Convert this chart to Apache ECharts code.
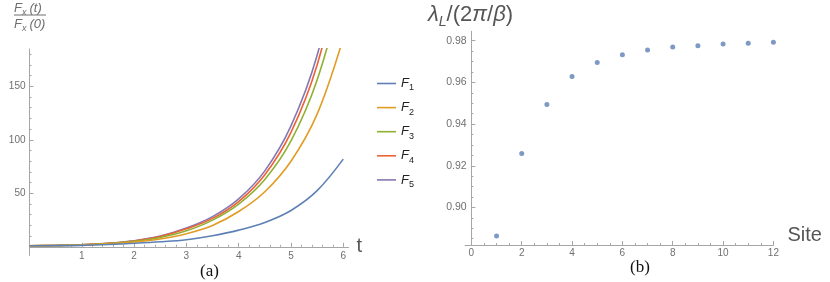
<!DOCTYPE html>
<html><head><meta charset="utf-8">
<script src="https://cdn.jsdelivr.net/npm/echarts@6/dist/echarts.min.js"></script>
<style>html,body{margin:0;padding:0;background:#fff}#c{width:830px;height:282px}</style>
</head><body><div id="c"></div>
<script>
// ---- data: panel (a) ----
const tValues = [0, 0.5, 1, 1.5, 2, 2.5, 3, 3.5, 4, 4.5, 5, 5.5, 6];
const F1 = [1, 1.1, 1.4, 2.2, 3.3, 4.7, 6.7, 10.4, 15.6, 22.8, 34, 52.5, 82];
const F2 = [1, 1.2, 1.7, 2.7, 4.5, 7.4, 12.3, 20, 33, 51.5, 80, 124, 195];
const F3 = [1, 1.3, 1.8, 3.1, 5.2, 8.8, 15, 25, 40, 63, 99, 156, 243];
const F4 = [1, 1.3, 1.9, 3.2, 5.5, 9.6, 16.8, 26.6, 42.3, 67.4, 107, 170, 270];
const F5 = [1, 1.3, 1.9, 3.3, 5.7, 10, 17.5, 28.2, 44.8, 71, 113, 179, 285];
const seriesNames = ['F1', 'F2', 'F3', 'F4', 'F5'];
const seriesColors = ['#5E81B5', '#E19C24', '#8FB032', '#EB6235', '#8778B3'];
const leftXTicks = [1, 2, 3, 4, 5, 6];
const leftYTicks = [50, 100, 150];

// ---- data: panel (b) ----
const sites = [1, 2, 3, 4, 5, 6, 7, 8, 9, 10, 11, 12];
const lambdaRatio = [0.8863, 0.9259, 0.9494, 0.9628, 0.9695, 0.9732, 0.9755, 0.9770, 0.9776, 0.9784, 0.9788, 0.9792];
const rightXTicks = [0, 2, 4, 6, 8, 10, 12];
const rightYTicks = [0.90, 0.92, 0.94, 0.96, 0.98];

// minor tick helper (axis decoration only)
function minorTicks(from, to, step, majorStep) {
  const out = [];
  const n = Math.round((to - from) / step);
  for (let i = 0; i <= n; i++) {
    const v = +(from + i * step).toFixed(6);
    const r = v / majorStep;
    if (Math.abs(r - Math.round(r)) > 1e-6) out.push(v);
  }
  return out;
}

const FONT = '"Liberation Sans", Arial, sans-serif';
const AXIS_COLOR = '#a6a6a6';
const LABEL_COLOR = '#707070';

function mainAxis(extra) {
  return Object.assign({
    type: 'value',
    splitLine: { show: false },
    axisLine: { show: true, onZero: true, lineStyle: { color: AXIS_COLOR, width: 1 } },
    axisTick: { show: true, inside: true, length: 4, lineStyle: { color: AXIS_COLOR } },
    axisLabel: { color: LABEL_COLOR, fontSize: 10, fontFamily: FONT }
  }, extra);
}
function minorAxis(extra) {
  return Object.assign({
    type: 'value',
    splitLine: { show: false },
    axisLine: { show: false, onZero: true },
    axisTick: { show: true, inside: true, length: 2, lineStyle: { color: AXIS_COLOR } },
    axisLabel: { show: false }
  }, extra);
}

const chart = echarts.init(document.getElementById('c'), null, { renderer: 'canvas' });

const lineSeries = [F1, F2, F3, F4, F5].map((arr, i) => ({
  name: seriesNames[i],
  type: 'line',
  xAxisIndex: 0, yAxisIndex: 0,
  data: tValues.map((t, j) => [t, arr[j]]),
  smooth: 0.35,
  symbol: 'none',
  clip: true,
  z: 10 - i,
  lineStyle: { color: seriesColors[i], width: 1.6 },
  itemStyle: { color: seriesColors[i] }
}));

const richSmall = (size, color) => ({
  f: { fontSize: size, fontStyle: 'italic', fontFamily: FONT, fill: color, lineHeight: size + 4, verticalAlign: 'middle' },
  s: { fontSize: Math.round(size * 0.68), fontStyle: 'italic', fontFamily: FONT, fill: color, lineHeight: size + 4, verticalAlign: 'bottom', padding: [0, 3, 0, 0] }
});

chart.setOption({
  animation: false,
  backgroundColor: '#fff',
  grid: [
    { left: 29.5, top: 48.9, width: 319, height: 206.5 },
    { left: 465.1, top: 31.3, width: 308.3, height: 213.7 }
  ],
  xAxis: [
    mainAxis({ gridIndex: 0, min: 0, max: 6.1,
      name: 't', nameLocation: 'end', nameGap: 8,
      nameTextStyle: { fontSize: 20, color: '#555', fontFamily: FONT, verticalAlign: 'middle' },
      axisTick: { show: true, inside: true, length: 4, customValues: leftXTicks, lineStyle: { color: AXIS_COLOR } },
      axisLabel: { color: LABEL_COLOR, fontSize: 10, fontFamily: FONT, margin: -4.5, customValues: leftXTicks } }),
    mainAxis({ gridIndex: 1, min: -0.25, max: 12,
      name: 'Site', nameLocation: 'end', nameGap: 14,
      nameTextStyle: { fontSize: 20, color: '#555', fontFamily: FONT, verticalAlign: 'bottom' },
      axisTick: { show: true, inside: true, length: 4, customValues: rightXTicks, lineStyle: { color: AXIS_COLOR } },
      axisLabel: { color: LABEL_COLOR, fontSize: 10, fontFamily: FONT, margin: 3, customValues: rightXTicks } }),
    minorAxis({ gridIndex: 0, min: 0, max: 6.1, position: 'bottom',
      axisTick: { show: true, inside: true, length: 2, customValues: minorTicks(0, 6, 0.2, 1), lineStyle: { color: AXIS_COLOR } } }),
    minorAxis({ gridIndex: 1, min: -0.25, max: 12, position: 'bottom',
      axisTick: { show: true, inside: true, length: 2, customValues: minorTicks(0, 12, 0.5, 2), lineStyle: { color: AXIS_COLOR } } })
  ],
  yAxis: [
    mainAxis({ gridIndex: 0, min: -8, max: 185,
      axisTick: { show: true, inside: true, length: 4, customValues: leftYTicks, lineStyle: { color: AXIS_COLOR } },
      axisLabel: { color: LABEL_COLOR, fontSize: 10, fontFamily: FONT, margin: 4, customValues: leftYTicks } }),
    mainAxis({ gridIndex: 1, min: 0.882, max: 0.9845,
      axisTick: { show: true, inside: true, length: 4, customValues: rightYTicks, lineStyle: { color: AXIS_COLOR } },
      axisLabel: { color: LABEL_COLOR, fontSize: 10.5, fontFamily: FONT, margin: -1.5, customValues: rightYTicks,
        formatter: v => v.toFixed(2) } }),
    minorAxis({ gridIndex: 0, min: -8, max: 185, position: 'left',
      axisTick: { show: true, inside: true, length: 2, customValues: minorTicks(10, 180, 10, 50), lineStyle: { color: AXIS_COLOR } } }),
    minorAxis({ gridIndex: 1, min: 0.882, max: 0.9845, position: 'left',
      axisTick: { show: true, inside: true, length: 2, customValues: minorTicks(0.885, 0.98, 0.005, 0.02), lineStyle: { color: AXIS_COLOR } } })
  ],
  legend: {
    orient: 'vertical',
    left: 377, top: 77, padding: 0,
    icon: 'rect',
    itemWidth: 19, itemHeight: 1.6, itemGap: 8.6,
    data: seriesNames,
    formatter: n => '{f|F}{s|' + n.slice(1) + '}',
    textStyle: {
      rich: {
        f: { fontSize: 13, fontStyle: 'italic', fontFamily: FONT, color: '#222', lineHeight: 18, verticalAlign: 'middle' },
        s: { fontSize: 9, fontFamily: FONT, color: '#222', lineHeight: 18, verticalAlign: 'bottom' }
      }
    }
  },
  graphic: [
    { type: 'text', left: 14, top: 1.5, style: { text: '{f|F}{s|x}{f|(t)}', rich: richSmall(13, '#6e6e6e') } },
    { type: 'line', shape: { x1: 14, y1: 15, x2: 46, y2: 15 }, style: { stroke: '#6e6e6e', lineWidth: 1 } },
    { type: 'text', left: 14, top: 18, style: { text: '{f|F}{s|x}{f|(0)}', rich: richSmall(13, '#6e6e6e') } },
    { type: 'text', left: 428, top: 4, style: { text: '{i|λ}{s|L}{n|/(2}{i|π}{n|/}{i|β}{n|)}', rich: {
      i: { fontSize: 22, fontStyle: 'italic', fontFamily: FONT, fill: '#555', lineHeight: 28, verticalAlign: 'middle' },
      n: { fontSize: 22, fontFamily: FONT, fill: '#555', lineHeight: 28, verticalAlign: 'middle' },
      s: { fontSize: 14, fontStyle: 'italic', fontFamily: FONT, fill: '#555', lineHeight: 28, verticalAlign: 'bottom' } } } },
    { type: 'text', left: 200, top: 263, style: { text: '(a)', fontSize: 17, fontFamily: '"Liberation Serif", "Times New Roman", serif', fill: '#111' } },
    { type: 'text', left: 630, top: 259, style: { text: '(b)', fontSize: 17, fontFamily: '"Liberation Serif", "Times New Roman", serif', fill: '#111' } }
  ],
  series: lineSeries.concat([{
    name: 'lambda',
    type: 'scatter',
    xAxisIndex: 1, yAxisIndex: 1,
    data: sites.map((s, i) => [s, lambdaRatio[i]]),
    symbolSize: 5,
    itemStyle: { color: '#5E81B5' }
  }])
});
</script>
</body></html>
